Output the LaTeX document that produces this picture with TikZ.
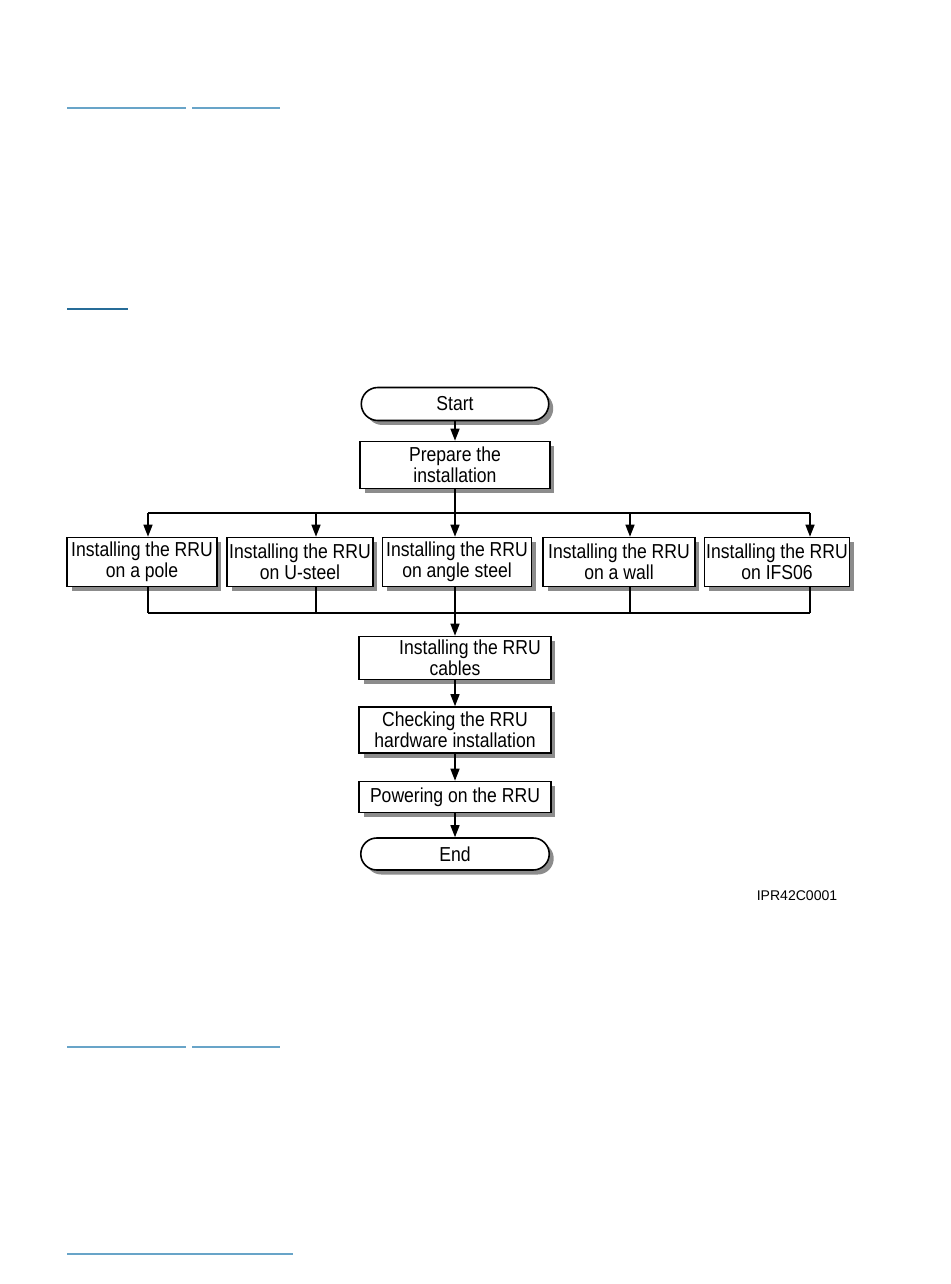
\documentclass[tikz,border=0pt]{standalone}
\usepackage{fontspec}
\setmainfont{Liberation Sans}
\newfontfamily\boxfont{Liberation Sans}[FakeStretch=0.87]
\usetikzlibrary{arrows.meta, positioning, shapes.misc, shadows}
\definecolor{linkblue}{RGB}{104,164,200}
\definecolor{linkdark}{RGB}{38,108,152}

\begin{document}
\begin{tikzpicture}[
  x=0.02cm, y=-0.02cm,
    box/.style={
        draw,
        fill=white,
        line width=0.9pt,
        align=center,
        inner sep=1pt,
        font=\boxfont\fontsize{11.5}{12.2}\selectfont,
        drop shadow={shadow xshift=0.09cm, shadow yshift=-0.09cm, fill=black!45, opacity=1}
    },
    term/.style={
        box,
        rounded rectangle
    },
    arrow/.style={
        -{Triangle[length=2.4mm,width=1.8mm]},
        line width=0.8pt
    },
    link/.style={
        line width=1.6pt
    }
]
\useasboundingbox (0,0) rectangle (950,1284);

% underlined links of the page
\draw[link, linkblue] (67,108) -- (186,108);
\draw[link, linkblue] (192,108) -- (280,108);
\draw[link, linkdark] (67,309) -- (128,309);
\draw[link, linkblue] (67,1047) -- (186,1047);
\draw[link, linkblue] (192,1047) -- (280,1047);
\draw[link, linkblue] (67,1254) -- (293,1254);

\node[term, minimum width=3.82cm, minimum height=0.66cm] (start) at (455,404)
{Start};

\node[box, minimum width=3.8cm, minimum height=0.94cm] (prep) at (455,465)
{Prepare the\\
installation};

\node[box, minimum width=3cm, minimum height=0.98cm] (pole) at (142,562)
{Installing the RRU\\
on a pole};

\node[box, minimum width=2.92cm, minimum height=0.98cm] (usteel) at (300,562)
{Installing the RRU\\
on U-steel};

\node[box, minimum width=2.98cm, minimum height=0.98cm] (angle) at (457,562)
{Installing the RRU\\
on angle steel};

\node[box, minimum width=3.04cm, minimum height=0.98cm] (wall) at (619,562)
{Installing the RRU\\
on a wall};

\node[box, minimum width=2.9cm, minimum height=0.98cm] (ifs) at (777,562)
{Installing the RRU\\
on IFS06};

\node[box, minimum width=3.84cm, minimum height=0.86cm] (cables) at (455,658)
{\hspace*{0.6cm}Installing the RRU\\
cables};

\node[box, minimum width=3.84cm, minimum height=0.92cm] (check) at (455,730)
{Checking the RRU\\
hardware installation};

\node[box, minimum width=3.84cm, minimum height=0.62cm] (power) at (455,797)
{Powering on the RRU};

\node[term, minimum width=3.84cm, minimum height=0.64cm] (end) at (455,854)
{End};

\node[font=\fontsize{8}{9}\selectfont, inner sep=0pt] (figid) at (797,896)
{IPR42C0001};

\coordinate (split) at (455,513);
\coordinate (splitL) at (148,513);
\coordinate (splitR) at (810,513);
\coordinate (join) at (455,613);
\coordinate (joinL) at (148,613);
\coordinate (joinR) at (810,613);

\draw[arrow] (start.south) -- (prep.north);
\draw[line width=0.8pt] (prep.south) -- (split);
\draw[line width=0.8pt] (splitL) -- (splitR);
\draw[line width=0.8pt] (joinL) -- (joinR);

\foreach \n/\x in {pole/148, usteel/316, angle/455, wall/630, ifs/810} {
  \coordinate (a) at (\x,513);
  \coordinate (b) at (\x,613);
  \draw[arrow] (a) -- (a |- \n.north);
  \draw[line width=0.8pt] (b |- \n.south) -- (b);
}

\draw[arrow] (join) -- (cables.north);
\draw[arrow] (cables.south) -- (check.north);
\draw[arrow] (check.south) -- (power.north);
\draw[arrow] (power.south) -- (end.north);

\end{tikzpicture}
\end{document}
